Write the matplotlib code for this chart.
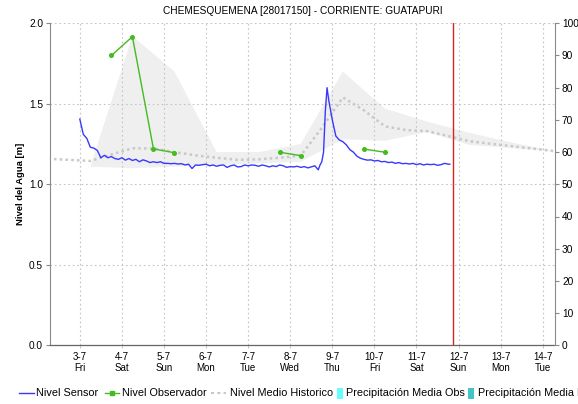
import numpy as np
import pandas as pd
import matplotlib
matplotlib.use("Agg")
import matplotlib.pyplot as plt
import matplotlib.dates as mdates
from matplotlib.lines import Line2D
from matplotlib.patches import Rectangle
from matplotlib.ticker import FuncFormatter, MultipleLocator

plt.rcParams['font.family'] = ['Liberation Sans', 'DejaVu Sans']

TITLE = "CHEMESQUEMENA [28017150] - CORRIENTE: GUATAPURI"
Y_LABEL = "Nivel del Agua [m]"

# Sensor level: hours after the start time, level in metres
sensor_start = "2020-07-03 00:00"
sensor_hours = [0, 2, 4, 6, 8, 10, 12, 14, 16, 18, 20, 22, 24, 26, 28, 30, 32, 34,
                36, 38, 40, 42, 44, 46, 48, 50, 52, 54, 56, 58, 60, 62, 64, 66, 68,
                70, 72, 74, 76, 78, 80, 82, 84, 86, 88, 90, 92, 94, 96, 98, 100, 102,
                104, 106, 108, 110, 112, 114, 116, 118, 120, 122, 124, 126, 128, 130,
                132, 134, 136, 137, 138, 139, 140, 141, 142, 143, 144, 146, 148, 150,
                152, 154, 156, 158, 160, 162, 164, 166, 168, 170, 172, 174, 176, 178,
                180, 182, 184, 186, 188, 190, 192, 194, 196, 198, 200, 202, 204, 206,
                208, 210, 211]
sensor_level = [1.405, 1.31, 1.285, 1.23, 1.225, 1.21, 1.165, 1.18, 1.165, 1.172,
                1.16, 1.155, 1.165, 1.15, 1.16, 1.148, 1.155, 1.14, 1.152, 1.145,
                1.135, 1.14, 1.135, 1.14, 1.13, 1.13, 1.128, 1.13, 1.126, 1.128,
                1.12, 1.125, 1.098, 1.12, 1.118, 1.122, 1.125, 1.115, 1.12, 1.112,
                1.118, 1.12, 1.105, 1.115, 1.12, 1.108, 1.11, 1.12, 1.115, 1.12,
                1.118, 1.112, 1.12, 1.115, 1.108, 1.115, 1.11, 1.12, 1.115, 1.105,
                1.11, 1.108, 1.112, 1.105, 1.11, 1.102, 1.108, 1.115, 1.09, 1.12,
                1.14, 1.20, 1.45, 1.60, 1.52, 1.46, 1.40, 1.30, 1.275, 1.265,
                1.245, 1.215, 1.20, 1.175, 1.162, 1.155, 1.15, 1.152, 1.145, 1.148,
                1.14, 1.142, 1.135, 1.138, 1.13, 1.135, 1.128, 1.13, 1.126, 1.13,
                1.122, 1.128, 1.12, 1.125, 1.122, 1.125, 1.118, 1.122, 1.13, 1.125,
                1.125]

# Observer readings
obs_times = ["2020-07-03 18:00", "2020-07-04 06:00", "2020-07-04 18:00", "2020-07-05 06:00",
             "2020-07-07 18:00", "2020-07-08 06:00",
             "2020-07-09 18:00", "2020-07-10 06:00"]
obs_level = [1.80, 1.917, 1.22, 1.196,
             1.199, 1.178,
             1.219, 1.199]

# Historical mean level (every 12 h)
hist_mean_times = pd.date_range("2020-07-02 06:00", "2020-07-14 06:00", freq="12h")
hist_mean = [1.158, 1.152, 1.145, 1.185, 1.224, 1.222, 1.20, 1.18, 1.165, 1.152,
             1.155, 1.165, 1.178, 1.35, 1.54, 1.46, 1.36, 1.337, 1.33, 1.30,
             1.268, 1.252, 1.237, 1.222, 1.207]

# Historical range envelope (daily)
band_times = pd.date_range("2020-07-03 06:00", "2020-07-14 06:00", freq="24h")
band_upper = [1.11, 1.92, 1.70, 1.20, 1.20, 1.25, 1.70, 1.47, 1.39, 1.32, 1.26, 1.207]
band_lower = [1.11, 1.10, 1.11, 1.12, 1.13, 1.14, 1.28, 1.27, 1.325, 1.245, 1.225, 1.205]

current_time = "2020-07-11 20:40"
x_start, x_end = "2020-07-02 07:00", "2020-07-14 07:00"
day_ticks = pd.date_range("2020-07-03", "2020-07-14", freq="D")

W, H = 578, 404
fig = plt.figure(figsize=(W / 100, H / 100), dpi=100)
ax = fig.add_axes([50 / W, 1 - 345.3 / H, 505 / W, 322 / H])

GRID = '#c4c4c4'
SPINE = '#8a8a8a'

# envelope
bx = mdates.date2num(band_times)
ax.fill(np.concatenate([bx, bx[::-1]]),
        np.concatenate([band_upper, band_lower[::-1]]),
        color='#efefef', lw=0, zorder=0.5)

# historical mean
ax.plot(hist_mean_times, hist_mean, color='#c8c8c8', lw=1.8,
        linestyle=(0, (1, 1.3)), zorder=2)

# sensor
s_times = pd.Timestamp(sensor_start) + pd.to_timedelta(sensor_hours, unit='h')
ax.plot(s_times, sensor_level, color='#3838ff', lw=1.0, zorder=3)

# observer readings, joined only within consecutive 12 h runs
ot = pd.to_datetime(obs_times)
groups, cur = [], [0]
for i in range(1, len(ot)):
    if (ot[i] - ot[i - 1]) > pd.Timedelta(hours=12):
        groups.append(cur)
        cur = []
    cur.append(i)
groups.append(cur)
for g in groups:
    ax.plot(ot[g], [obs_level[i] for i in g], color='#44bb22', lw=1.0,
            marker='o', ms=2.6, mec='#44bb22', mfc='#44bb22', zorder=4)

# current time marker
ax.axvline(pd.Timestamp(current_time), color='#dd2222', lw=1.0, zorder=5)

ax.set_xlim(pd.Timestamp(x_start), pd.Timestamp(x_end))
ax.set_ylim(0, 2.0)
ax.yaxis.set_major_locator(MultipleLocator(0.5))
ax.yaxis.set_major_formatter(FuncFormatter(lambda v, p: f"{v:.1f}"))
ax.set_xticks(day_ticks)
ax.set_xticklabels([f"{d.day}-{d.month}\n{d.strftime('%a')}" for d in day_ticks],
                   linespacing=1.1)

ax.grid(True, color=GRID, lw=0.8, linestyle=(0, (1.5, 2.5)))
ax.set_axisbelow('line')

for side in ('top', 'right'):
    ax.spines[side].set_visible(False)
ax.spines['left'].set_color(SPINE)
ax.spines['bottom'].set_color('#666666')
ax.spines['bottom'].set_linestyle((0, (1, 1)))
ax.spines['bottom'].set_linewidth(0.9)

ax.tick_params(axis='y', length=3, width=0.8, color=SPINE, labelsize=7.3, pad=2)
ax.tick_params(axis='x', length=2, width=0.6, color='#bbbbbb', labelsize=7, pad=3)

ax.set_ylabel(Y_LABEL, fontsize=6.8, fontweight='bold')
ax.yaxis.set_label_coords(-0.05, 0.5)

ax.set_title(TITLE, fontsize=7.3, pad=7)

# precipitation axis
ax2 = ax.twinx()
ax2.set_ylim(0, 100)
ax2.yaxis.set_major_locator(MultipleLocator(10))
for side in ('top', 'left', 'bottom'):
    ax2.spines[side].set_visible(False)
ax2.spines['right'].set_color(SPINE)
ax2.tick_params(axis='y', length=3, width=0.8, color=SPINE, labelsize=7.3, pad=2)

# legend row along the bottom; the last entry runs past the right edge
def fx(px):
    return px / W

def fy(py):
    return 1 - py / H

ly = 393
txt = dict(fontsize=7.8, va='center', ha='left')
fig.add_artist(Line2D([fx(19), fx(34)], [fy(ly), fy(ly)], color='#3838ff', lw=1.0))
fig.text(fx(36), fy(ly), "Nivel Sensor", **txt)
fig.add_artist(Line2D([fx(105), fx(119)], [fy(ly), fy(ly)], color='#44bb22', lw=1.0))
fig.add_artist(Line2D([fx(112)], [fy(ly)], color='#44bb22', marker='s', ms=2.4, lw=0))
fig.text(fx(122), fy(ly), "Nivel Observador", **txt)
fig.add_artist(Line2D([fx(211), fx(226)], [fy(ly), fy(ly)], color='#c8c8c8', lw=1.5,
                      linestyle=(0, (1.5, 1.5))))
fig.text(fx(230), fy(ly), "Nivel Medio Historico", **txt)
fig.add_artist(Rectangle((fx(337), fy(398.5)), fx(6), 11 / H, color='#66ffff', lw=0))
fig.text(fx(346), fy(ly), "Precipitación Media Obs", **txt)
fig.add_artist(Rectangle((fx(468), fy(398.5)), fx(6), 11 / H, color='#44c4c4', lw=0))
fig.text(fx(478), fy(ly), "Precipitación Media Pronosticada", **txt)

fig.savefig("out.png", dpi=100)
